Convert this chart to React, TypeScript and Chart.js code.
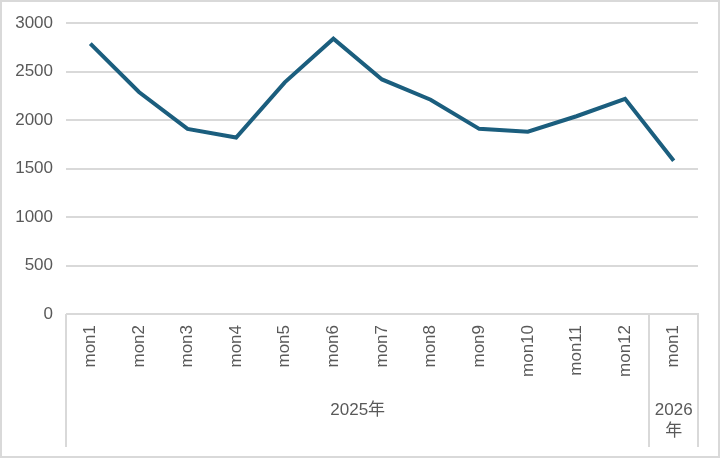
import React, { useEffect, useRef } from "react";
import { Chart, registerables } from "chart.js";

Chart.register(...registerables);

const monthLabels = ["mon1", "mon2", "mon3", "mon4", "mon5", "mon6", "mon7", "mon8", "mon9", "mon10", "mon11", "mon12", "mon1"];
const salesValues = [2790, 2290, 1910, 1820, 2390, 2840, 2420, 2210, 1910, 1880, 2040, 2220, 1580];
const yearGroupLines = [["2025年"], ["2026", "年"]];
const yearGroupSizes = [12, 1];
const yMin = 0;
const yMax = 3000;
const yStep = 500;

const FONT = "'Liberation Sans', 'Noto Sans CJK SC', sans-serif";
const GREY = "#d9d9d9";
const TEXT = "#595959";

const groupPlugin = {
  id: "groupPlugin",
  afterDraw(chart: any) {
    const ctx = chart.ctx;
    const xs = chart.scales.x;
    const { left, right, bottom } = chart.chartArea;
    ctx.save();
    ctx.strokeStyle = GREY;
    ctx.lineWidth = 2;
    // outer chart border
    ctx.strokeRect(1, 1, chart.width - 4, chart.height - 3);
    // axis line
    ctx.beginPath();
    ctx.moveTo(left, bottom);
    ctx.lineTo(right + 1, bottom);
    ctx.stroke();
    const lineEnd = bottom + 133;
    const bounds: number[] = [left];
    let start = 0;
    yearGroupSizes.forEach((size) => {
      const end = start + size;
      const b = end >= monthLabels.length ? right : (xs.getPixelForValue(end - 1) + xs.getPixelForValue(end)) / 2;
      bounds.push(b);
      start = end;
    });
    bounds.forEach((b) => {
      ctx.beginPath();
      ctx.moveTo(Math.round(b), bottom);
      ctx.lineTo(Math.round(b), lineEnd);
      ctx.stroke();
    });
    ctx.fillStyle = TEXT;
    ctx.font = "17px " + FONT;
    ctx.textAlign = "center";
    ctx.textBaseline = "middle";
    yearGroupLines.forEach((lines, i) => {
      const cx = (bounds[i] + bounds[i + 1]) / 2;
      lines.forEach((ln, j) => {
        ctx.fillText(ln, cx, bottom + 96 + j * 21);
      });
    });
    ctx.restore();
  },
};

export default function App() {
  const ref = useRef<HTMLCanvasElement | null>(null);
  useEffect(() => {
    document.body.style.margin = "0";
    const chart = new Chart(ref.current as HTMLCanvasElement, {
      type: "line",
      data: {
        labels: monthLabels,
        datasets: [
          {
            data: salesValues,
            borderColor: "#1b5e7e",
            backgroundColor: "#1b5e7e",
            borderWidth: 4,
            pointRadius: 0,
            tension: 0,
          },
        ],
      },
      options: {
        animation: false,
        responsive: false,
        maintainAspectRatio: false,
        layout: { padding: { top: 23, right: 24, left: 0, bottom: 0 } },
        plugins: { legend: { display: false }, tooltip: { enabled: false } },
        scales: {
          x: {
            offset: true,
            grid: { display: false, drawTicks: false },
            border: { display: false },
            ticks: {
              minRotation: 90,
              maxRotation: 90,
              autoSkip: false,
              padding: 11,
              color: TEXT,
              font: { size: 17, family: FONT },
            },
            afterFit: (scale: any) => {
              scale.height = 145;
            },
          },
          y: {
            min: yMin,
            max: yMax,
            grid: { color: GREY, lineWidth: 2, drawTicks: false },
            border: { display: false },
            ticks: {
              stepSize: yStep,
              padding: 13,
              color: TEXT,
              font: { size: 17, family: FONT },
              callback: (v: any) => String(v),
            },
            afterFit: (scale: any) => {
              scale.width = 66;
            },
          },
        },
      },
      plugins: [groupPlugin],
    });
    return () => chart.destroy();
  }, []);
  return (
    <div style={{ position: "fixed", left: 0, top: 0, width: 722, height: 459, background: "#fff" }}>
      <canvas ref={ref} width={722} height={459} style={{ width: 722, height: 459 }} />
    </div>
  );
}
